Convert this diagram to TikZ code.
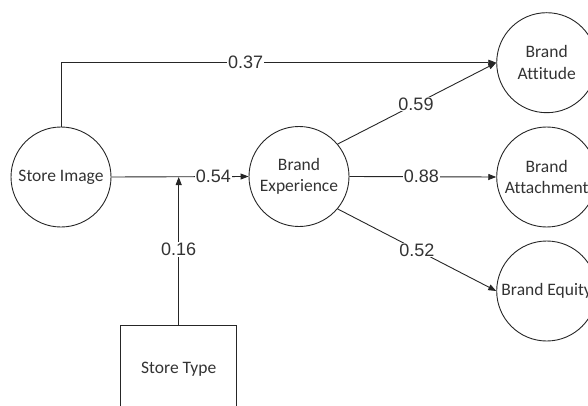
\documentclass[tikz,border=0pt]{standalone}
\usepackage{fontspec}
\setmainfont{Carlito}[Ligatures={NoCommon}]
\newfontfamily\lblfont{Liberation Sans}
\usetikzlibrary{arrows.meta}
\tikzset{
  construct/.style={circle, draw=black!85, line width=0.9pt, minimum size=100pt, inner sep=0pt,
    align=center, text=black!80, font=\fontsize{17.5}{21.5}\selectfont},
  boxnode/.style={rectangle, draw=black!85, line width=0.9pt, minimum width=116pt, minimum height=88pt,
    inner sep=0pt, text=black!80, font=\fontsize{17.5}{21.5}\selectfont},
  conn/.style={draw=black!85, line width=0.9pt, -{Triangle[length=8pt,width=6pt]}},
  coef/.style={fill=white, inner sep=1pt, text=black!80, font=\lblfont\fontsize{18}{20}\selectfont}
}
\begin{document}
\begin{tikzpicture}[x=1pt,y=-1pt]
\useasboundingbox (0,0) rectangle (588,406);
\clip (0,0) rectangle (588,406);
\node[construct] (si) at (61,177) {Store Image};
\node[construct] (be) at (299,176.5) {Brand\\Experience};
\node[construct] (att) at (546.7,62.7) {Brand\\Attitude};
\node[construct] (ach) at (546.7,177) {Brand\\Attachment};
\node[construct] (eq) at (546.7,291) {Brand Equity};
\node[boxnode] (st) at (178.7,369) {Store Type};
\coordinate (j) at (178.7,177);
\draw[conn] (si.north) |- node[coef, pos=0.712] {0.37} (att.west);
\draw[conn] (si.east) -- node[coef, pos=0.744] {0.54} (be.west);
\draw[conn] (st.north) -- node[coef, pos=0.507] {0.16} (j);
\draw[conn] (be.40) -- node[coef, pos=0.494] {0.59} (att.west);
\draw[conn] (be.east) -- node[coef, pos=0.49] {0.88} (ach.west);
\draw[conn] (be.-40) -- node[coef, pos=0.5] {0.52} (eq.west);
\end{tikzpicture}
\end{document}
